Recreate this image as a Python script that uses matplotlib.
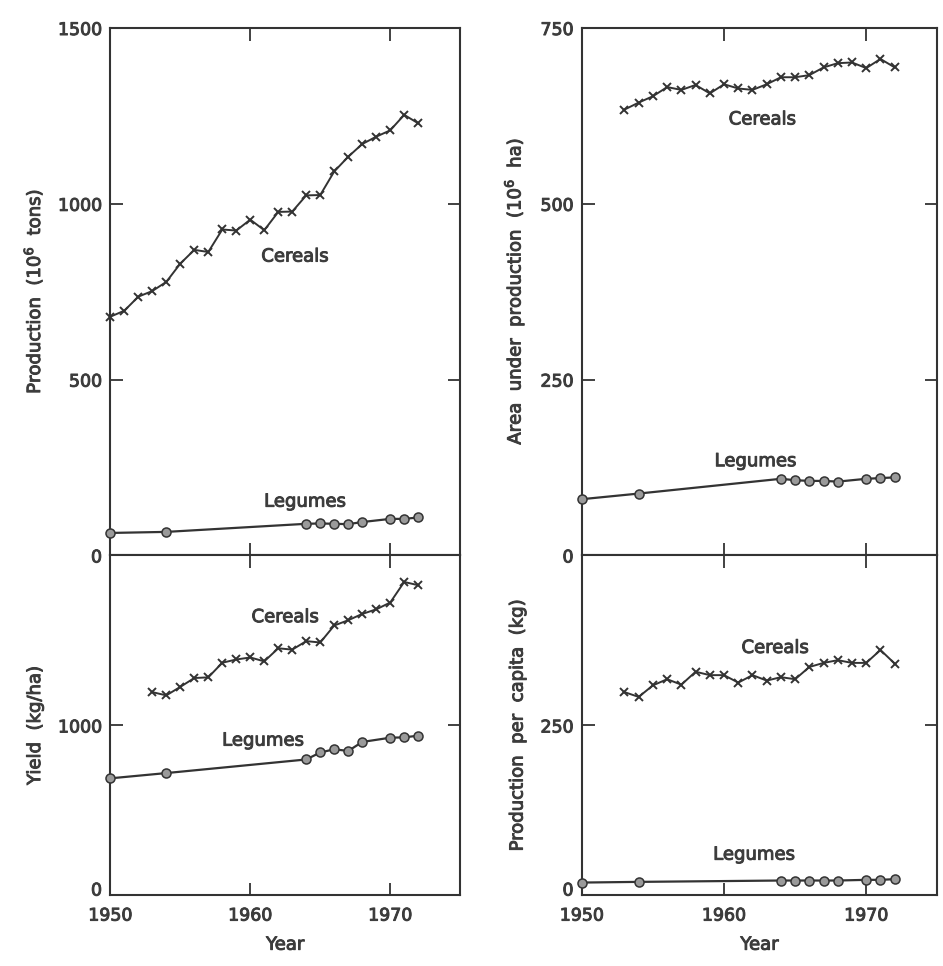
import matplotlib
matplotlib.use("Agg")
import matplotlib.pyplot as plt
import matplotlib.patheffects as pe
from matplotlib.transforms import ScaledTranslation

# ---- data ----
prod_cer_years = list(range(1950, 1973))
prod_cer = [679, 696, 736, 752, 778, 830, 869, 863, 927, 924, 955, 925,
            977, 978, 1024, 1025, 1092, 1134, 1170, 1191, 1209, 1253, 1229]

leg_years = [1950, 1954, 1964, 1965, 1966, 1967, 1968, 1970, 1971, 1972]
prod_leg = [64, 67, 90, 91, 90, 89, 95, 104, 104, 108]

cer_years = list(range(1953, 1973))
area_cer = [634, 644, 653, 666, 662, 669, 657, 670, 664, 662,
            670, 680, 680, 683, 694, 700, 701, 693, 706, 694]
area_leg = [80, 88, 109, 107, 106, 106, 105, 109, 110, 111]

yield_cer = [1196, 1177, 1227, 1279, 1283, 1369, 1388, 1400, 1377, 1454,
             1446, 1496, 1488, 1588, 1619, 1656, 1683, 1723, 1844, 1825]
yield_leg = [689, 720, 800, 841, 860, 850, 903, 928, 930, 940]

cap_cer = [299, 292, 309, 318, 310, 329, 324, 324, 313, 324,
           316, 321, 318, 336, 342, 346, 342, 342, 361, 341]
cap_leg = [19, 20, 22, 22, 22, 22, 22, 23, 23, 24]

INK = "#333333"
TXT = "#3c3c3c"
plt.rcParams["font.family"] = ["DejaVu Sans"]
plt.rcParams["text.color"] = TXT
plt.rcParams["axes.labelcolor"] = TXT
plt.rcParams["xtick.color"] = INK
plt.rcParams["ytick.color"] = INK
plt.rcParams["xtick.labelcolor"] = TXT
plt.rcParams["ytick.labelcolor"] = TXT

# slightly heavier strokes, like the scanned print
heavy = [pe.withStroke(linewidth=0.7, foreground=TXT)]

fig = plt.figure(figsize=(9.43, 9.66), dpi=100)
L1, W1 = 0.117, 0.371
L2, W2 = 0.617, 0.377
TOP, MID, BOT = 0.971, 0.425, 0.073

ax_prod = fig.add_axes([L1, MID, W1, TOP - MID])
ax_yield = fig.add_axes([L1, BOT, W1, MID - BOT])
ax_area = fig.add_axes([L2, MID, W2, TOP - MID])
ax_cap = fig.add_axes([L2, BOT, W2, MID - BOT])


def draw(ax, cx, cy, lx, ly):
    ax.plot(cx, cy, color=INK, lw=1.4, marker="x", ms=6, mew=1.4,
            mec=INK, zorder=3, clip_on=False)
    ax.plot(lx, ly, color=INK, lw=1.6, marker="o", ms=6.5, mew=1.1,
            mfc="#9a9a9a", mec=INK, zorder=3, clip_on=False)
    ax.set_xlim(1950, 1975)
    ax.set_xticks([1950, 1960, 1970])
    ax.tick_params(direction="in", top=True, right=True, length=9,
                   width=1.3, labelsize=12.5, pad=6)
    ax.tick_params(axis="x", pad=8)
    for s in ax.spines.values():
        s.set_linewidth(1.5)
        s.set_color(INK)


def note(ax, x, y, s):
    ax.text(x, y, s, ha="center", va="center", fontsize=13, path_effects=heavy)


def finish(ax):
    for lab in ax.get_xticklabels() + ax.get_yticklabels():
        lab.set_path_effects(heavy)
    ax.yaxis.label.set_path_effects(heavy)
    ax.xaxis.label.set_path_effects(heavy)


draw(ax_prod, prod_cer_years, prod_cer, leg_years, prod_leg)
ax_prod.set_ylim(0, 1500)
ax_prod.set_yticks([0, 500, 1000, 1500])
ax_prod.tick_params(labelbottom=False)
ax_prod.set_ylabel("Production  (10$^6$  tons)", fontsize=13, labelpad=10)
note(ax_prod, 1963.2, 850, "Cereals")
note(ax_prod, 1963.9, 153, "Legumes")

draw(ax_yield, cer_years, yield_cer, leg_years, yield_leg)
ax_yield.set_ylim(0, 2000)
ax_yield.set_yticks([0, 1000])
ax_yield.set_ylabel("Yield  (kg/ha)", fontsize=13, labelpad=10)
ax_yield.set_xlabel("Year", fontsize=13, labelpad=8)
note(ax_yield, 1962.5, 1637, "Cereals")
note(ax_yield, 1960.9, 911, "Legumes")

draw(ax_area, cer_years, area_cer, leg_years, area_leg)
ax_area.set_ylim(0, 750)
ax_area.set_yticks([0, 250, 500, 750])
ax_area.tick_params(labelbottom=False)
ax_area.set_ylabel("Area  under  production  (10$^6$  ha)", fontsize=13, labelpad=10)
note(ax_area, 1962.7, 620, "Cereals")
note(ax_area, 1962.2, 134, "Legumes")

draw(ax_cap, cer_years, cap_cer, leg_years, cap_leg)
ax_cap.set_ylim(0, 500)
ax_cap.set_yticks([0, 250])
ax_cap.set_ylabel("Production  per  capita  (kg)", fontsize=13, labelpad=10)
ax_cap.set_xlabel("Year", fontsize=13, labelpad=8)
note(ax_cap, 1963.6, 364, "Cereals")
note(ax_cap, 1962.1, 60, "Legumes")

for a in (ax_prod, ax_yield, ax_area, ax_cap):
    finish(a)

# lift the bottom "0" labels a little so they clear the 1950 year label
lift = ScaledTranslation(0, 5 / 72, fig.dpi_scale_trans)
for a in (ax_yield, ax_cap):
    zero = a.get_yticklabels()[0]
    zero.set_transform(zero.get_transform() + lift)

fig.savefig("out.png", dpi=100, facecolor="white")
